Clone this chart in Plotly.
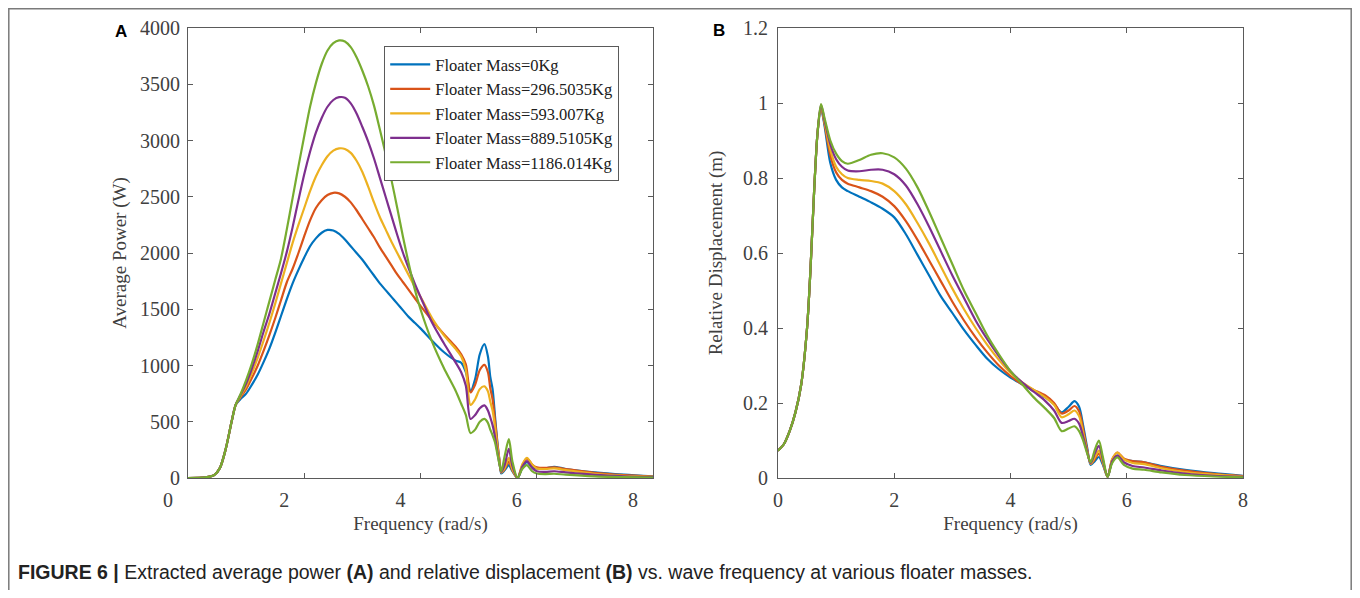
import plotly.graph_objects as go

# ---------------- Panel A data: average power (W) ----------------
freq_a = [0, 0.3, 0.45, 0.55, 0.65, 0.75, 0.82,
          0.9, 1.0, 1.1, 1.2, 1.3, 1.4, 1.5, 1.6, 1.7, 1.8,
          1.9, 2.0, 2.1, 2.2, 2.3, 2.4, 2.5, 2.6, 2.7, 2.8,
          2.9, 3.0, 3.1, 3.2, 3.3, 3.4, 3.5, 3.6, 3.7, 3.8,
          3.9, 4.0,
          4.2, 4.4, 4.6, 4.7, 4.78, 4.86, 4.94, 5.02, 5.1, 5.16, 5.2, 5.24, 5.28, 5.32, 5.36, 5.39,
          5.45, 5.52, 5.58, 5.67, 5.75, 5.83, 5.92, 6.0, 6.15, 6.3, 6.5, 7.0, 7.5, 8.0]

power_m0 = [0, 5, 25, 90, 260, 500, 650,
            700, 750, 830, 920, 1030, 1150, 1290, 1440, 1590, 1730,
            1850, 1960, 2060, 2130, 2180, 2205, 2200, 2170, 2120, 2060,
            2000, 1940, 1870, 1800, 1730, 1670, 1610, 1550, 1490, 1430,
            1380, 1330,
            1220, 1120, 1045, 1025, 940, 770, 880, 1100, 1190, 1080, 900, 790, 560, 330, 150, 40,
            70, 115, 60, 0, 90, 140, 100, 85, 85, 100, 80, 50, 30, 15]

power_m1 = [0, 5, 25, 90, 260, 500, 650,
            715, 790, 890, 1000, 1130, 1270, 1420, 1580, 1740, 1860,
            2000, 2150, 2290, 2400, 2470, 2515, 2535, 2530, 2500, 2450,
            2380, 2300, 2220, 2140, 2050, 1970, 1890, 1810, 1740, 1670,
            1600, 1530,
            1400, 1280, 1170, 1100, 1010, 760, 830, 960, 1005, 940, 800, 700, 520, 320, 150, 50,
            80, 145, 70, 0, 110, 175, 120, 95, 90, 95, 80, 45, 25, 12]

power_m2 = [0, 5, 25, 90, 260, 500, 650,
            725, 815, 935, 1070, 1220, 1380, 1550, 1730, 1910, 2090,
            2250, 2400, 2550, 2680, 2780, 2860, 2910, 2930, 2925, 2890,
            2820, 2720, 2590, 2450, 2320, 2210, 2100, 2000, 1900, 1800,
            1700, 1610,
            1420, 1270, 1150, 1080, 960, 650, 700, 790, 815, 770, 680, 600, 460, 290, 140, 50,
            90, 180, 80, 0, 120, 180, 120, 85, 80, 85, 70, 38, 20, 10]

power_m3 = [0, 5, 25, 90, 260, 500, 650,
            735, 840, 975, 1130, 1300, 1460, 1640, 1820, 2010, 2230,
            2470, 2700, 2900, 3070, 3200, 3300, 3360, 3385, 3380, 3330,
            3240, 3120, 2990, 2840, 2670, 2500, 2330, 2160, 2000, 1860,
            1730, 1610,
            1380, 1200, 1030, 940, 820, 525, 560, 620, 645, 600, 540, 470, 370, 240, 120, 55,
            120, 260, 110, 0, 100, 150, 90, 60, 55, 60, 50, 28, 15, 7]

power_m4 = [0, 5, 25, 90, 260, 500, 650,
            740, 870, 1020, 1190, 1380, 1570, 1760, 1950, 2210, 2490,
            2770, 3040, 3300, 3510, 3680, 3800, 3865, 3890, 3880, 3830,
            3740, 3620, 3480, 3310, 3100, 2880, 2650, 2400, 2140, 1900,
            1680, 1500,
            1210, 980, 780, 660, 560, 400, 430, 500, 525, 490, 430, 380, 320, 220, 120, 60,
            200, 345, 150, 0, 80, 115, 60, 40, 35, 38, 30, 15, 8, 4]

# ---------------- Panel B data: relative displacement (m) ----------------
freq_b = [0, 0.1, 0.2, 0.3, 0.4, 0.5, 0.56, 0.62, 0.68, 0.74,
          0.8, 0.9, 1.0, 1.1, 1.2, 1.4, 1.6, 1.8, 2.0, 2.2, 2.4, 2.6, 2.8,
          3.0, 3.2, 3.4, 3.6, 3.8, 4.0, 4.2, 4.4, 4.6,
          4.75, 4.88, 5.0, 5.1, 5.18, 5.25, 5.32, 5.38, 5.45, 5.52, 5.59, 5.67,
          5.75, 5.84, 5.95, 6.1, 6.3, 6.6, 7.0, 7.5, 8.0]

disp_m0 = [0.073, 0.09, 0.125, 0.175, 0.25, 0.4, 0.56, 0.76, 0.92, 0.985,
           0.94, 0.84, 0.795, 0.775, 0.765, 0.75, 0.735, 0.718, 0.695, 0.65, 0.595, 0.54, 0.485,
           0.44, 0.395, 0.355, 0.318, 0.29, 0.268, 0.25, 0.232, 0.215,
           0.197, 0.175, 0.19, 0.205, 0.19, 0.14, 0.08, 0.035, 0.045, 0.056, 0.035, 0.003,
           0.045, 0.06, 0.05, 0.045, 0.042, 0.032, 0.022, 0.013, 0.006]

disp_m1 = [0.073, 0.09, 0.125, 0.175, 0.25, 0.4, 0.56, 0.76, 0.92, 0.99,
           0.945, 0.86, 0.815, 0.795, 0.785, 0.775, 0.765, 0.75, 0.725, 0.685, 0.635, 0.58, 0.525,
           0.47, 0.42, 0.375, 0.335, 0.3, 0.272, 0.25, 0.235, 0.22,
           0.2, 0.172, 0.18, 0.192, 0.178, 0.13, 0.075, 0.038, 0.05, 0.065, 0.04, 0.003,
           0.05, 0.068, 0.052, 0.045, 0.042, 0.03, 0.02, 0.011, 0.005]

disp_m2 = [0.073, 0.09, 0.125, 0.175, 0.25, 0.4, 0.56, 0.76, 0.92, 0.99,
           0.95, 0.875, 0.83, 0.81, 0.8, 0.795, 0.792, 0.785, 0.765, 0.73, 0.68, 0.625, 0.565,
           0.505, 0.45, 0.4, 0.355, 0.315, 0.28, 0.255, 0.235, 0.215,
           0.195, 0.162, 0.17, 0.18, 0.165, 0.12, 0.07, 0.038, 0.055, 0.073, 0.042, 0.003,
           0.05, 0.068, 0.05, 0.04, 0.037, 0.026, 0.016, 0.009, 0.004]

disp_m3 = [0.073, 0.09, 0.125, 0.175, 0.25, 0.4, 0.56, 0.76, 0.92, 0.995,
           0.955, 0.89, 0.85, 0.83, 0.82, 0.818, 0.822, 0.822, 0.81, 0.78, 0.73, 0.67, 0.605,
           0.54, 0.48, 0.42, 0.37, 0.325, 0.285, 0.255, 0.23, 0.205,
           0.18, 0.147, 0.152, 0.158, 0.145, 0.11, 0.068, 0.04, 0.065, 0.086, 0.048, 0.003,
           0.045, 0.06, 0.042, 0.032, 0.028, 0.02, 0.012, 0.006, 0.003]

disp_m4 = [0.073, 0.09, 0.125, 0.175, 0.25, 0.4, 0.56, 0.76, 0.92, 0.997,
           0.96, 0.9, 0.865, 0.845, 0.838, 0.848, 0.862, 0.866, 0.855, 0.825, 0.775, 0.71, 0.64,
           0.57, 0.5, 0.44, 0.38, 0.33, 0.285, 0.25, 0.215, 0.185,
           0.16, 0.125, 0.132, 0.138, 0.125, 0.1, 0.065, 0.042, 0.075, 0.1, 0.055, 0.003,
           0.04, 0.055, 0.035, 0.025, 0.022, 0.015, 0.008, 0.004, 0.002]

series_names = ["Floater Mass=0Kg", "Floater Mass=296.5035Kg", "Floater Mass=593.007Kg",
                "Floater Mass=889.5105Kg", "Floater Mass=1186.014Kg"]
series_colors = ["#0072BD", "#D95319", "#EDB120", "#7E2F8E", "#77AC30"]
power_series = [power_m0, power_m1, power_m2, power_m3, power_m4]
disp_series = [disp_m0, disp_m1, disp_m2, disp_m3, disp_m4]

fig = go.Figure()
for name, col, p in zip(series_names, series_colors, power_series):
    fig.add_trace(go.Scatter(x=freq_a, y=p, mode="lines", name=name,
                             line=dict(color=col, width=2.2, shape="spline", smoothing=0.8),
                             xaxis="x", yaxis="y"))
for name, col, d in zip(series_names, series_colors, disp_series):
    fig.add_trace(go.Scatter(x=freq_b, y=d, mode="lines", name=name, showlegend=False,
                             line=dict(color=col, width=2.2, shape="spline", smoothing=0.8),
                             xaxis="x2", yaxis="y2"))

# The page keeps the browser's default 8px body margin, so the figure is
# 16px smaller than the window; positions below are given in window pixels.
PAGE_W, PAGE_H, BODY_M = 1360, 598, 8
W, H = PAGE_W - 2 * BODY_M, PAGE_H - 2 * BODY_M


def fx(px):
    return (px - BODY_M) / W


def fy(py):
    return 1 - (py - BODY_M) / H


axcol = "#5a5a5a"
serif = "Liberation Serif, Times New Roman, serif"
tickfont = dict(family=serif, size=20, color="#404040")
titlefont = dict(family=serif, size=19, color="#404040")


def ax_common():
    return dict(showline=True, linecolor=axcol, linewidth=1.2, mirror="ticks",
                ticks="inside", ticklen=5, tickcolor=axcol, showgrid=False, zeroline=False,
                tickfont=tickfont, automargin=False)


ydom = [fy(478), fy(28)]
fig.update_layout(
    width=W, height=H, margin=dict(l=0, r=0, t=0, b=0, pad=0, autoexpand=False),
    paper_bgcolor="white", plot_bgcolor="white",
    xaxis=dict(domain=[fx(188), fx(653)], range=[0, 8], dtick=2, anchor="y",
               ticklabelshift=-20, ticklabelstandoff=4,
               title=dict(text="Frequency (rad/s)", font=titlefont, standoff=6), **ax_common()),
    yaxis=dict(domain=ydom, range=[0, 4000], dtick=500, tickformat="d", anchor="x",
               ticklabelstandoff=3,
               title=dict(text="Average Power (W)", font=titlefont, standoff=8), **ax_common()),
    xaxis2=dict(domain=[fx(778), fx(1243)], range=[0, 8], dtick=2, anchor="y2",
                ticklabelstandoff=4,
                title=dict(text="Frequency (rad/s)", font=titlefont, standoff=6), **ax_common()),
    yaxis2=dict(domain=ydom, range=[0, 1.2], dtick=0.2, anchor="x2",
                ticklabelstandoff=5,
                title=dict(text="Relative Displacement (m)", font=titlefont, standoff=15), **ax_common()),
    legend=dict(x=fx(384), y=fy(46), xanchor="left", yanchor="top",
                bgcolor="white", bordercolor=axcol, borderwidth=1.2,
                font=dict(family=serif, size=16.5, color="#202020"),
                itemwidth=40, tracegroupgap=0),
    showlegend=True,
)

# outer frame of the figure panel (top, left and right sides)
fig.add_shape(type="path", xref="paper", yref="paper",
              path=f"M {0.8 / W},0 L {0.8 / W},{1 - 0.8 / H} L {1 - 0.8 / W},{1 - 0.8 / H} L {1 - 0.8 / W},0",
              line=dict(color="#7a7a7a", width=1.5))

# panel letters
letter_font = dict(family="Liberation Sans, Arial, sans-serif", size=17, color="black")
fig.add_annotation(text="<b>A</b>", xref="paper", yref="paper", x=fx(121), y=fy(32),
                   xanchor="center", yanchor="middle", showarrow=False, font=letter_font)
fig.add_annotation(text="<b>B</b>", xref="paper", yref="paper", x=fx(719), y=fy(31),
                   xanchor="center", yanchor="middle", showarrow=False, font=letter_font)

# caption
fig.add_annotation(
    text="<b>FIGURE 6 |</b> Extracted average power <b>(A)</b> and relative displacement <b>(B)</b> vs. wave frequency at various floater masses.",
    xref="paper", yref="paper", x=fx(16), y=fy(572), xanchor="left", yanchor="middle",
    showarrow=False, font=dict(family="Liberation Sans, Arial, sans-serif", size=19.5, color="#222222"))

fig.write_html("out.html", config={"displayModeBar": False})
